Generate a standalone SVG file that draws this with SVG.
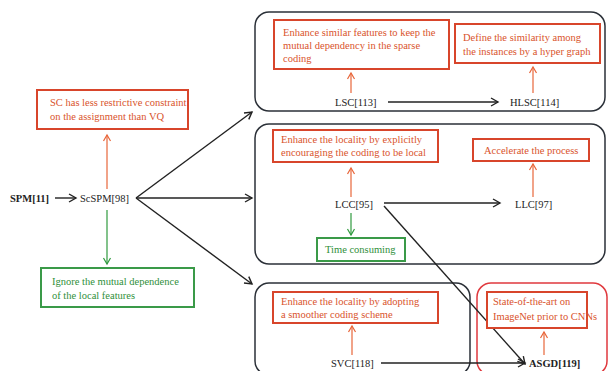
<svg xmlns="http://www.w3.org/2000/svg" width="609" height="371" viewBox="0 0 609 371">
<defs>
<style>
text{font-family:'Liberation Serif',serif;font-size:10.5px}
.k{fill:#222}
.o{fill:#d9532c}
.g{fill:#2f8f3a}
.ob{fill:#fff;stroke:#d8452b;stroke-width:2}
.gb{fill:#fff;stroke:#3a9a48;stroke-width:2}
.grp{fill:none;stroke:#2b3038;stroke-width:1.5}
.rgrp{fill:none;stroke:#e0393e;stroke-width:1.5}
.ka{stroke:#222;stroke-width:1.4;fill:none;marker-end:url(#mk)}
.oa{stroke:#e8663a;stroke-width:1.2;fill:none;marker-end:url(#mo)}
.ga{stroke:#2f9a3e;stroke-width:1.2;fill:none;marker-end:url(#mg)}
</style>
<marker id="mk" markerWidth="10" markerHeight="10" refX="8" refY="5" orient="auto" markerUnits="userSpaceOnUse"><path d="M1,1 L8,5 L1,9" fill="none" stroke="#222" stroke-width="1.4"/></marker>
<marker id="mo" markerWidth="10" markerHeight="10" refX="8" refY="5" orient="auto" markerUnits="userSpaceOnUse"><path d="M2,1.5 L8,5 L2,8.5" fill="none" stroke="#e8663a" stroke-width="1.2"/></marker>
<marker id="mg" markerWidth="10" markerHeight="10" refX="8" refY="5" orient="auto" markerUnits="userSpaceOnUse"><path d="M2,1.5 L8,5 L2,8.5" fill="none" stroke="#2f9a3e" stroke-width="1.2"/></marker>
</defs>
<rect width="609" height="371" fill="#fff"/>
<g id="groups">
<rect class="grp" x="255" y="12" width="350" height="99" rx="14"/>
<rect class="grp" x="255" y="124" width="350" height="140" rx="14"/>
<rect class="grp" x="255" y="283" width="215" height="92" rx="14"/>
<rect class="rgrp" x="477" y="283" width="130" height="92" rx="14"/>
</g>
<g id="connectors">
<path class="ka" d="M55,198 H76"/>
<path class="ka" d="M136,198 L252,112"/>
<path class="ka" d="M136,198 H252"/>
<path class="ka" d="M136,198 L252,284"/>
<path class="oa" d="M107,189 V135"/>
<path class="ga" d="M107,210 V264"/>
<path class="ka" d="M388,102 H498"/>
<path class="oa" d="M351,93 V73"/>
<path class="oa" d="M533,93 V67"/>
<path class="ka" d="M384,203 H500"/>
<path class="ka" d="M384,206 L525,364"/>
<path class="oa" d="M351,197 V168"/>
<path class="oa" d="M533,197 V164"/>
<path class="ga" d="M351,213 V235"/>
<path class="ka" d="M381,363 H525"/>
<path class="oa" d="M352,355 V326"/>
<path class="oa" d="M544,355 V332"/>
</g>
<g font-family="Liberation Serif, serif">
<g id="spm"><text class="k" x="10" y="202" font-weight="bold">SPM[11]</text></g>
<g id="sespm"><text class="k" x="80" y="202">ScSPM[98]</text></g>
<g id="sc-note"><rect class="ob" x="37" y="90" width="151" height="39"/><text class="o" x="50" y="106" font-size="9.5">SC has less restrictive constraint</text><text class="o" x="50" y="120" font-size="9.5">on the assignment than VQ</text></g>
<g id="ignore-note"><rect class="gb" x="41" y="268" width="153" height="39"/><text class="g" x="52" y="285">Ignore the mutual dependence</text><text class="g" x="52" y="299">of the local features</text></g>
<g id="lsc-note"><rect class="ob" x="274" y="20" width="175" height="49"/><text class="o" x="283" y="36">Enhance similar features to keep the</text><text class="o" x="283" y="49">mutual dependency in the sparse</text><text class="o" x="283" y="62">coding</text></g>
<g id="hlsc-note"><rect class="ob" x="455" y="24" width="145" height="39"/><text class="o" x="463" y="41" font-size="9.7">Define the similarity among</text><text class="o" x="463" y="55" font-size="9.7">the instances by a hyper graph</text></g>
<g id="lsc"><text class="k" x="335" y="106">LSC[113]</text></g>
<g id="hlsc"><text class="k" x="510" y="106">HLSC[114]</text></g>
<g id="lcc-note"><rect class="ob" x="273" y="130" width="165" height="32"/><text class="o" x="281" y="143" font-size="10.3">Enhance the locality by  explicitly</text><text class="o" x="281" y="156" font-size="10.3">encouraging the coding to be local</text></g>
<g id="llc-note"><rect class="ob" x="473" y="139" width="116" height="22"/><text class="o" x="484" y="154" font-size="10">Accelerate the process</text></g>
<g id="lcc"><text class="k" x="335" y="208">LCC[95]</text></g>
<g id="llc"><text class="k" x="515" y="208">LLC[97]</text></g>
<g id="time-note"><rect class="gb" x="317" y="238" width="88" height="23"/><text class="g" x="325" y="253">Time consuming</text></g>
<g id="svc-note"><rect class="ob" x="273" y="292" width="165" height="31"/><text class="o" x="281" y="305">Enhance the locality by  adopting</text><text class="o" x="281" y="318">a smoother coding scheme</text></g>
<g id="asgd-note"><rect class="ob" x="487" y="292" width="100" height="36"/><text class="o" x="493" y="305" font-size="9.2">State-of-the-art on</text><text class="o" x="493" y="320" font-size="9.2">ImageNet prior to CNNs</text></g>
<g id="svc"><text class="k" x="331" y="367">SVC[118]</text></g>
<g id="asgd"><text class="k" x="529" y="367" font-weight="bold" font-size="10">ASGD[119]</text></g>
</g>
</svg>
